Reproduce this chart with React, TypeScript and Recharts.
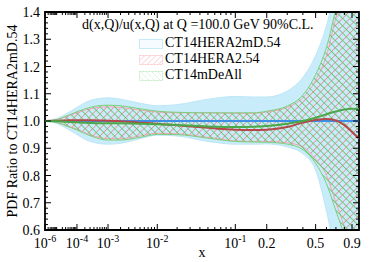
import { ComposedChart, Area, Line, XAxis, YAxis, ReferenceArea } from "recharts";

// x grid of the curves
const xs = [1e-6, 1e-5, 3e-5, 1e-4, 3e-4, 1e-3, 2e-3, 5e-3, 1e-2, 2e-2, 5e-2, 0.1, 0.15, 0.2, 0.3, 0.4, 0.5, 0.6, 0.7, 0.8, 0.9, 1.0];

// CT14HERA2mD.54 90% band (blue)
const mdLow = [1.0, 0.99, 0.975, 0.95, 0.925, 0.915, 0.918, 0.935, 0.948, 0.945, 0.925, 0.915, 0.915, 0.916, 0.905, 0.88, 0.82, 0.67, 0.5, 0.4, 0.3, 0.2];
const mdHigh = [1.0, 1.01, 1.025, 1.05, 1.075, 1.085, 1.08, 1.065, 1.056, 1.06, 1.08, 1.09, 1.088, 1.088, 1.11, 1.16, 1.24, 1.35, 1.5, 1.7, 1.9, 2.1];
const mdCentral = [1, 1, 1, 1, 1, 1, 1, 1, 1, 1, 1, 1, 1, 1, 1, 1, 1, 1, 1, 1, 1, 1];

// CT14HERA2.54 (red hatch)
const h2Low = [1.0, 0.995, 0.985, 0.97, 0.95, 0.935, 0.935, 0.945, 0.955, 0.953, 0.94, 0.927, 0.925, 0.925, 0.92, 0.905, 0.86, 0.8, 0.7, 0.61, 0.5, 0.4];
const h2High = [1.0, 1.005, 1.015, 1.03, 1.045, 1.052, 1.05, 1.04, 1.033, 1.03, 1.03, 1.028, 1.028, 1.033, 1.05, 1.085, 1.15, 1.24, 1.38, 1.5, 1.65, 1.8];
const h2Central = [1.0, 1.001, 1.002, 1.003, 1.003, 1.001, 0.999, 0.994, 0.99, 0.984, 0.975, 0.968, 0.967, 0.968, 0.978, 0.994, 1.004, 1.007, 1.002, 0.985, 0.96, 0.935];

// CT14mDeAll (green hatch)
const deLow = [1.0, 0.994, 0.983, 0.967, 0.946, 0.93, 0.93, 0.94, 0.951, 0.95, 0.937, 0.925, 0.923, 0.922, 0.915, 0.895, 0.845, 0.77, 0.67, 0.58, 0.48, 0.38];
const deHigh = [1.0, 1.006, 1.017, 1.034, 1.05, 1.058, 1.056, 1.045, 1.036, 1.032, 1.03, 1.03, 1.03, 1.036, 1.055, 1.095, 1.17, 1.27, 1.41, 1.53, 1.68, 1.83];
const deCentral = [1.0, 0.999, 0.997, 0.995, 0.993, 0.992, 0.992, 0.99, 0.988, 0.985, 0.98, 0.978, 0.979, 0.982, 0.99, 1.0, 1.012, 1.025, 1.035, 1.042, 1.045, 1.044];

const xMajor = [1e-6, 1e-4, 1e-3, 1e-2, 0.1, 0.2, 0.5, 0.9];
const xMajorLabels = [
  { base: "10", exp: "-6" },
  { base: "10", exp: "-4" },
  { base: "10", exp: "-3" },
  { base: "10", exp: "-2" },
  { base: "10", exp: "-1" },
  { base: "0.2", exp: "" },
  { base: "0.5", exp: "" },
  { base: "0.9", exp: "" },
];
const yMajor = [0.6, 0.7, 0.8, 0.9, 1.0, 1.1, 1.2, 1.3, 1.4];

const legendTitle = "d(x,Q)/u(x,Q) at Q =100.0 GeV 90%C.L.";
const legendNames = ["CT14HERA2mD.54", "CT14HERA2.54", "CT14mDeAll"];

const FONT = '"Liberation Serif", "Times New Roman", serif';
const W = 374;
const H = 262;
const TOP = 12;
const LEFT = 45;
const RIGHT = 359;
const BOTTOM = 230;

// x axis is drawn in x^0.2
const T = (x: number) => Math.pow(x, 0.2);

const xMinor: number[] = [];
for (let k = -6; k <= -1; k++) {
  for (let m = 2; m <= 9; m++) xMinor.push(m * Math.pow(10, k));
}
const xMajorT = xMajor.map(T);
const xTicks = [...xMajorT, ...xMinor.filter((v) => !xMajor.some((M) => Math.abs(M - v) < 1e-12)).map(T)];

const yMinor: number[] = [];
for (let i = 0; i <= 40; i++) yMinor.push(Math.round((0.6 + i * 0.02) * 100) / 100);
const yTicks = yMinor;

const data = xs.map((x, i) => ({
  t: T(x),
  md: [mdLow[i], mdHigh[i]],
  h2: [h2Low[i], h2High[i]],
  de: [deLow[i], deHigh[i]],
  mdC: mdCentral[i],
  h2C: h2Central[i],
  deC: deCentral[i],
}));

const XTick = (props: any) => {
  const { x, y, payload } = props;
  const i = xMajorT.findIndex((v) => Math.abs(v - payload.value) < 1e-9);
  const len = i >= 0 ? 6 : 3;
  const lab = i >= 0 ? xMajorLabels[i] : null;
  return (
    <g>
      <line x1={x} x2={x} y1={y} y2={y - len} stroke="#000" strokeWidth={1} />
      <line x1={x} x2={x} y1={TOP} y2={TOP + len} stroke="#000" strokeWidth={1} />
      {lab && (
        <text x={x} y={y + 17.5} textAnchor="middle" fontSize={14} fontFamily={FONT} fill="#000">
          {lab.base}
          {lab.exp && (
            <tspan dy={-6} fontSize={10}>
              {lab.exp}
            </tspan>
          )}
        </text>
      )}
    </g>
  );
};

const YTick = (props: any) => {
  const { y, payload } = props;
  const major = yMajor.some((v) => Math.abs(v - payload.value) < 1e-6);
  const len = major ? 6 : 3;
  return (
    <g>
      <line x1={LEFT} x2={LEFT + len} y1={y} y2={y} stroke="#000" strokeWidth={1} />
      <line x1={RIGHT} x2={RIGHT - len} y1={y} y2={y} stroke="#000" strokeWidth={1} />
      {major && (
        <text x={40} y={y + 5} textAnchor="end" fontSize={14} fontFamily={FONT} fill="#000">
          {payload.value.toFixed(1)}
        </text>
      )}
    </g>
  );
};

const Swatch = ({ kind }: { kind: number }) => (
  <svg width={24} height={10} style={{ position: "absolute", left: 0, top: 0 }}>
    <defs>
      <pattern id={`sw${kind}`} width={4} height={4} patternUnits="userSpaceOnUse" patternTransform={kind === 1 ? "rotate(45)" : "rotate(-45)"}>
        <line x1={0} y1={0} x2={0} y2={4} stroke={kind === 1 ? "#f7b3c0" : "#a8e0a8"} strokeWidth={1} strokeDasharray={kind === 2 ? "1 1" : undefined} />
      </pattern>
    </defs>
    {kind === 0 ? (
      <rect x={0.5} y={0.5} width={23} height={9} fill="#f5fbfe" stroke="#c6ebf8" />
    ) : (
      <rect x={0.5} y={0.5} width={23} height={9} fill={`url(#sw${kind})`} stroke={kind === 1 ? "#f7c6cf" : "#c2eac2"} strokeDasharray="2 1" />
    )}
  </svg>
);

export default function App() {
  return (
    <div style={{ position: "absolute", left: 0, top: 0, width: W, height: H, fontFamily: FONT, background: "#fff" }}>
      <ComposedChart width={W} height={H} data={data} margin={{ top: TOP, right: W - RIGHT, left: 0, bottom: 0 }}>
        <defs>
          <pattern id="redHatch" width={5.2} height={5.2} patternUnits="userSpaceOnUse" patternTransform="rotate(45)">
            <line x1={0} y1={0} x2={0} y2={5.2} stroke="#f0839a" strokeWidth={1.5} />
          </pattern>
          <pattern id="greenHatch" width={5.2} height={5.2} patternUnits="userSpaceOnUse" patternTransform="rotate(-45)">
            <line x1={0} y1={0} x2={0} y2={5.2} stroke="#58c458" strokeWidth={1.5} />
          </pattern>
        </defs>
        <XAxis
          dataKey="t"
          type="number"
          domain={[T(1e-6), 1]}
          allowDataOverflow
          ticks={xTicks}
          interval={0}
          tick={<XTick />}
          tickLine={false}
          axisLine={false}
          tickSize={0}
          tickMargin={0}
          height={H - BOTTOM}
          label={{ value: "x", position: "insideBottom", offset: 5, fontSize: 14, fill: "#000", fontFamily: FONT }}
        />
        <YAxis
          type="number"
          domain={[0.6, 1.4]}
          allowDataOverflow
          ticks={yTicks}
          interval={0}
          tick={<YTick />}
          tickLine={false}
          axisLine={false}
          tickSize={0}
          tickMargin={0}
          width={LEFT}
          label={{
            value: "PDF Ratio to CT14HERA2mD.54",
            angle: -90,
            position: "insideLeft",
            offset: 12,
            fontSize: 14,
            fill: "#000",
            fontFamily: FONT,
            style: { textAnchor: "middle" },
          }}
        />
        <Area type="monotone" dataKey="md" fill="#c9ecfa" fillOpacity={1} stroke="#bde6f6" strokeWidth={1} isAnimationActive={false} />
        <Area type="monotone" dataKey="h2" fill="url(#redHatch)" fillOpacity={1} stroke="#f4a3b3" strokeWidth={1} isAnimationActive={false} />
        <Area type="monotone" dataKey="de" fill="url(#greenHatch)" fillOpacity={1} stroke="#7ccf7c" strokeWidth={1} isAnimationActive={false} />
        <Line type="monotone" dataKey="mdC" stroke="#3f8fe6" strokeWidth={2} dot={false} isAnimationActive={false} />
        <Line type="monotone" dataKey="h2C" stroke="#b54848" strokeWidth={2} dot={false} isAnimationActive={false} />
        <Line type="monotone" dataKey="deC" stroke="#4aa84a" strokeWidth={2} dot={false} isAnimationActive={false} />
        <ReferenceArea x1={T(1e-6)} x2={1} y1={0.6} y2={1.4} fill="none" stroke="#000" strokeWidth={1.8} ifOverflow="visible" />
      </ComposedChart>
      <div style={{ position: "absolute", left: 82, top: 18.3, fontSize: 14, lineHeight: "14px", whiteSpace: "nowrap" }}>{legendTitle}</div>
      {legendNames.map((name, i) => (
        <div key={name} style={{ position: "absolute", left: 139, top: 38.5 + i * 16, width: 200, height: 14 }}>
          <Swatch kind={i} />
          <div style={{ position: "absolute", left: 26, top: -2.2, fontSize: 14, lineHeight: "14px", whiteSpace: "nowrap" }}>{name}</div>
        </div>
      ))}
    </div>
  );
}
